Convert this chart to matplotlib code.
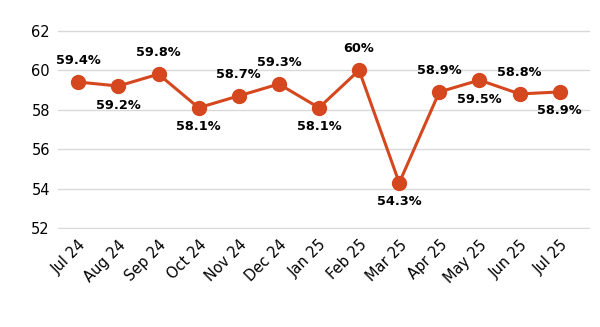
import matplotlib.pyplot as plt

months = ['Jul 24', 'Aug 24', 'Sep 24', 'Oct 24', 'Nov 24', 'Dec 24', 'Jan 25',
          'Feb 25', 'Mar 25', 'Apr 25', 'May 25', 'Jun 25', 'Jul 25']
values = [59.4, 59.2, 59.8, 58.1, 58.7, 59.3, 58.1, 60.0, 54.3, 58.9, 59.5, 58.8, 58.9]
labels = ['59.4%', '59.2%', '59.8%', '58.1%', '58.7%', '59.3%', '58.1%',
          '60%', '54.3%', '58.9%', '59.5%', '58.8%', '58.9%']
above = [True, False, True, False, True, True, False, True, False, True, False, True, False]

color = '#D5471E'

fig = plt.figure(figsize=(6, 3.27), dpi=100)
ax = fig.add_axes([0.097, 0.30, 0.886, 0.608])

x = list(range(len(months)))
ax.plot(x, values, color=color, linewidth=2.2, marker='o', markersize=10, zorder=3)

for i, (v, lab, up) in enumerate(zip(values, labels, above)):
    if up:
        ax.annotate(lab, (i, v), xytext=(0, 11), textcoords='offset points',
                    ha='center', va='bottom', fontsize=9.3, fontweight='bold')
    else:
        ax.annotate(lab, (i, v), xytext=(0, -9), textcoords='offset points',
                    ha='center', va='top', fontsize=9.3, fontweight='bold')

ax.set_ylim(51.97, 62.03)
ax.set_yticks([52, 54, 56, 58, 60, 62])
ax.set_xlim(-0.5, 12.75)
ax.set_xticks(x)
ax.set_xticklabels(months, rotation=45, ha='right', rotation_mode='anchor')
ax.tick_params(axis='both', length=0, labelsize=10.5, pad=6)
ax.yaxis.grid(True, color='#d9d9d9', linewidth=1)
ax.set_axisbelow(True)
for s in ax.spines.values():
    s.set_visible(False)

fig.savefig('out.png', dpi=100)
